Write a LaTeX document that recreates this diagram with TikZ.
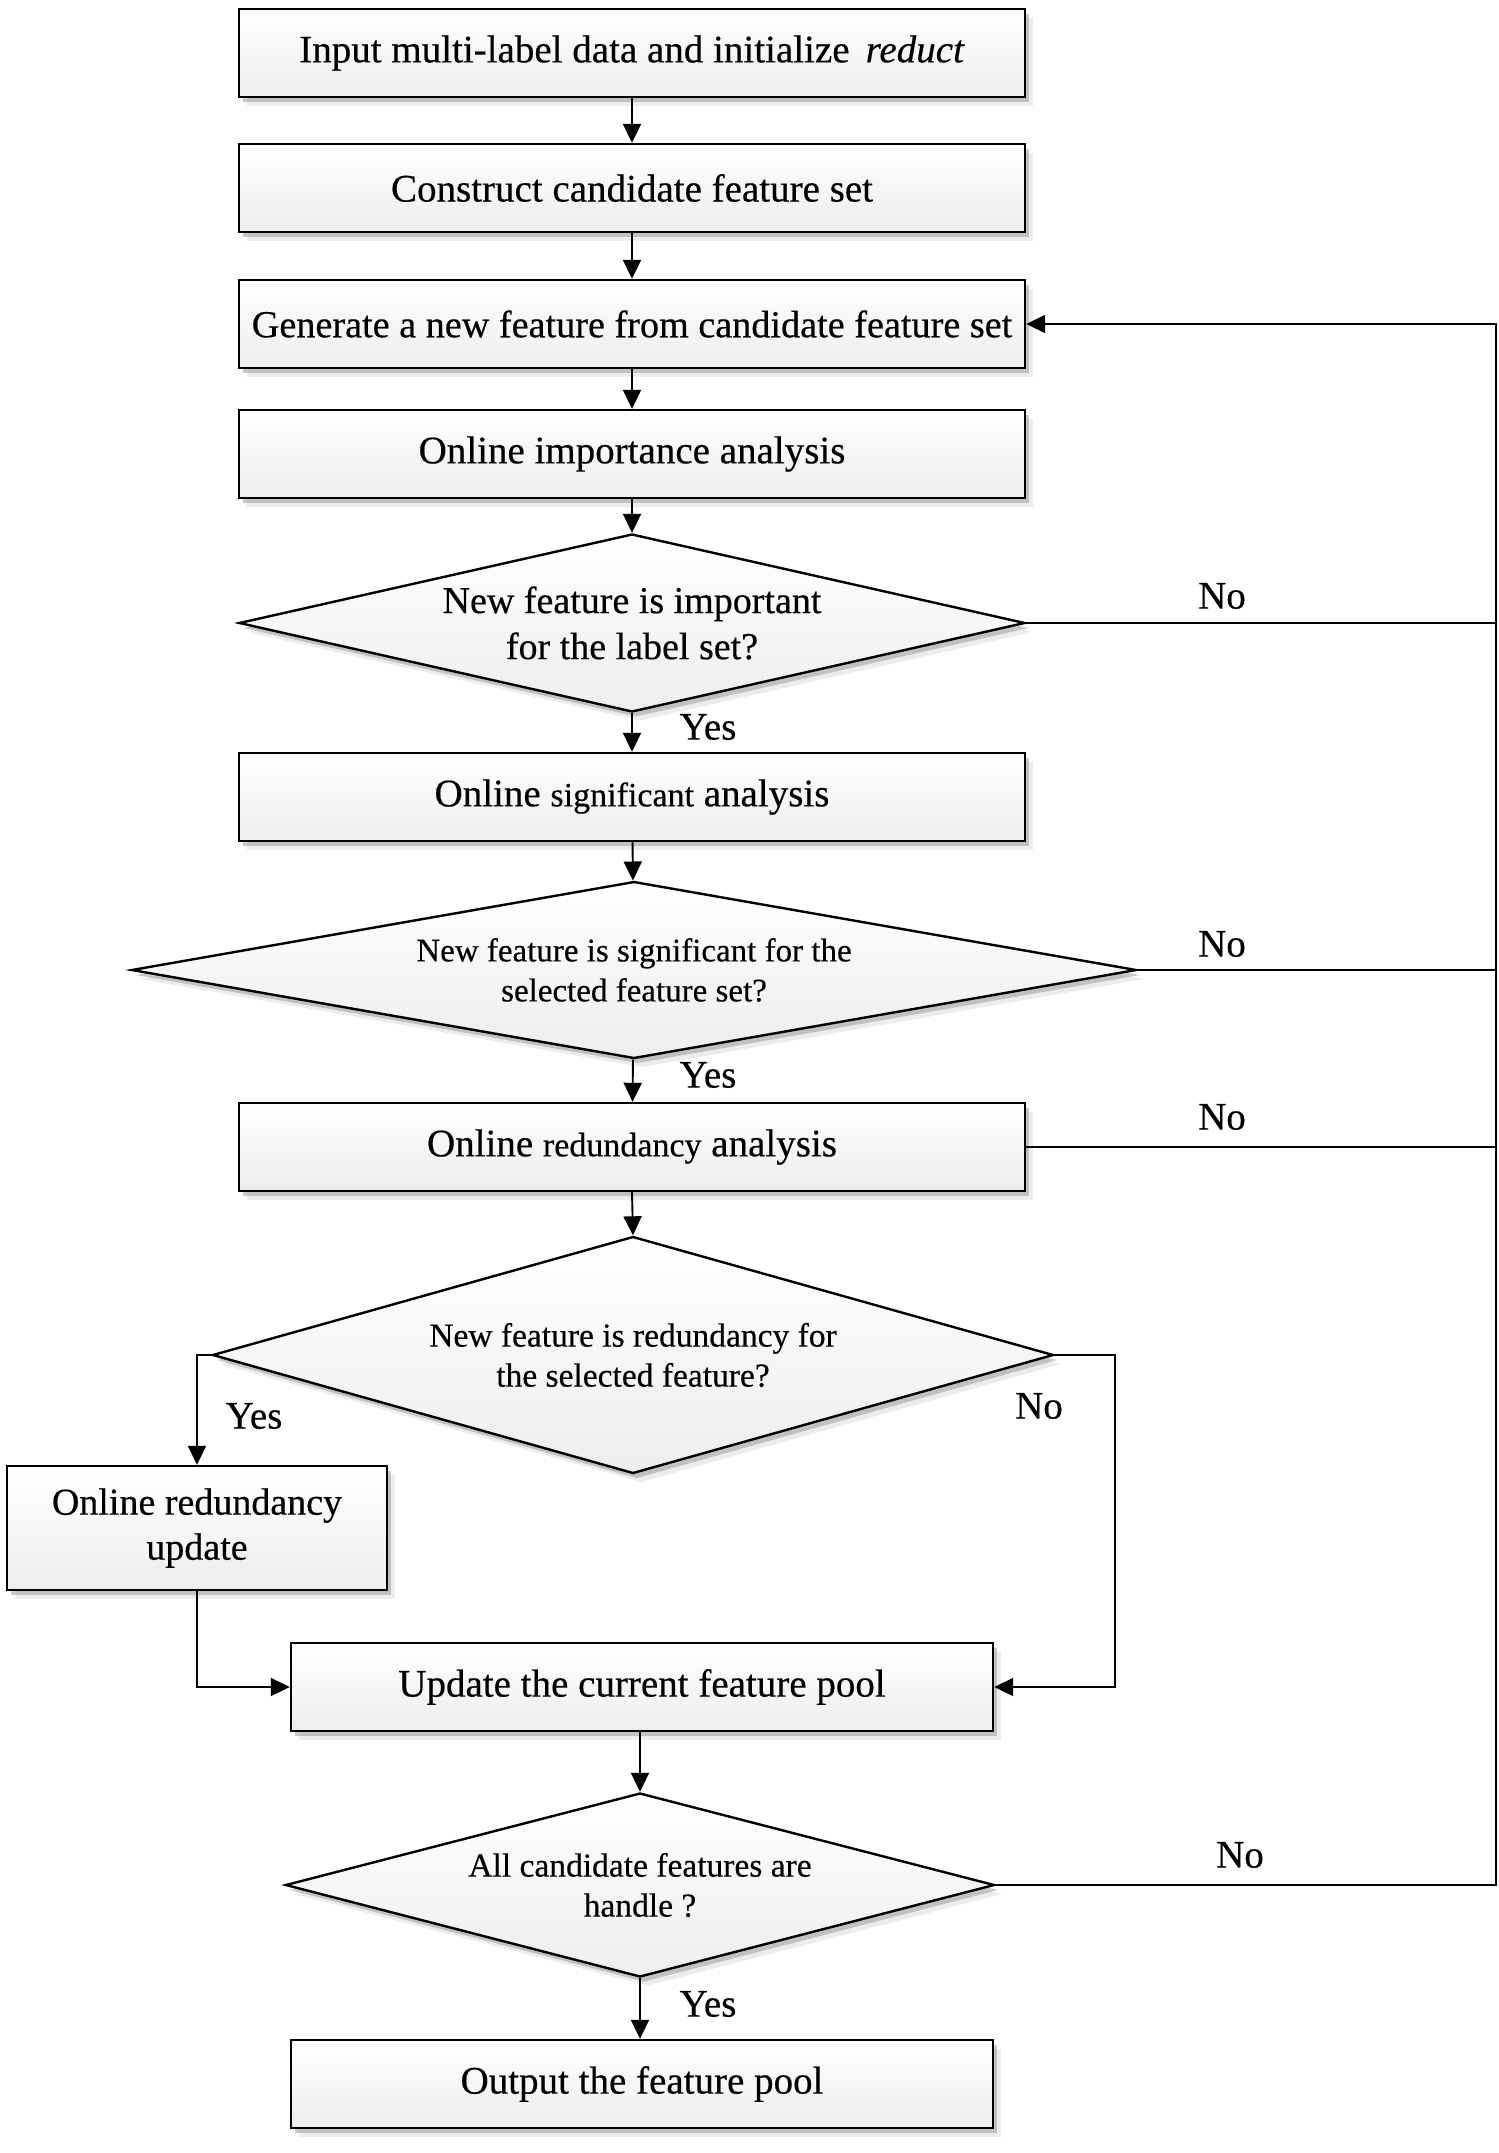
\documentclass[tikz,border=0pt]{standalone}
\usepackage{fontspec}
\setmainfont{Liberation Serif}[FakeBold=0.4]
\usetikzlibrary{shapes.geometric,arrows.meta,shadows}
\begin{document}
\begin{tikzpicture}[x=1pt,y=-1pt,
  shad/.style={drop shadow={shadow xshift=8pt, shadow yshift=-9pt, fill=black!15, opacity=0.5},
               drop shadow={shadow xshift=4pt, shadow yshift=-5pt, fill=black!35, opacity=0.6}},
  box/.style={rectangle, draw=black, line width=2.4pt, minimum width=786pt, minimum height=88pt,
              top color=white, bottom color=black!7, align=center, inner sep=0pt,
              font=\fontsize{39}{46}\selectfont, shad},
  dec/.style={diamond, draw=black, line width=2.4pt, inner sep=0pt, aspect=4,
              top color=white, bottom color=black!7, align=center, shad},
  arr/.style={line width=1.9pt, -{Triangle[length=19pt,width=18pt]}},
  ln/.style={line width=1.9pt},
  lab/.style={font=\fontsize{39}{44}\selectfont, inner sep=0pt}
]
\useasboundingbox (0,0) rectangle (1499,2153);

\node[box] (b1) at (632,53) {Input multi-label data and initialize \,\textit{reduct}};
\node[box] (b2) at (632,188) {Construct candidate feature set};
\node[box, font=\fontsize{38.2}{46}\selectfont] (b3) at (632,324) {Generate a new feature from candidate feature set};
\node[box] (b4) at (632,454) {Online importance analysis};
\node[dec, minimum width=786pt, minimum height=178pt, font=\fontsize{38}{46}\selectfont] (d1) at (632,623)
  {New feature is important\\for the label set?};
\node[box] (b5) at (632,797) {Online {\fontsize{34}{40}\selectfont significant} analysis};
\node[dec, minimum width=1005pt, minimum height=177pt, font=\fontsize{33}{40}\selectfont] (d2) at (634,970)
  {New feature is significant for the\\selected feature set?};
\node[box] (b6) at (632,1147) {Online {\fontsize{34}{40}\selectfont redundancy} analysis};
\node[dec, minimum width=841pt, minimum height=237pt, font=\fontsize{33.5}{40}\selectfont] (d3) at (633,1355)
  {New feature is redundancy for\\the selected feature?};
\node[box, minimum width=380pt, minimum height=124pt, font=\fontsize{38}{45}\selectfont] (b7) at (197,1528)
  {Online redundancy\\update};
\node[box, minimum width=702pt] (b8) at (642,1687) {Update the current feature pool};
\node[dec, minimum width=709pt, minimum height=184pt, font=\fontsize{33.5}{40}\selectfont] (d4) at (640,1885)
  {All candidate features are\\handle ?};
\node[box, minimum width=702pt] (b9) at (642,2084) {Output the feature pool};

\coordinate (rt) at (1496,324);
\coordinate (nr) at (1115,1355);

% main flow
\draw[arr] (b1) -- (b2);
\draw[arr] (b2) -- (b3);
\draw[arr] (b3) -- (b4);
\draw[arr] (b4) -- (d1);
\draw[arr] (d1) -- (b5);
\draw[arr] (b5) -- (d2);
\draw[arr] (d2) -- (b6);
\draw[arr] (b6.south) -- (d3.north);
\draw[arr] (b8.south -| d4.north) -- (d4.north);
\draw[arr] (d4.south) -- (b9.north -| d4.south);

% feedback loop
\draw[arr] (d4.east) -| (rt) -- (b3.east);
\draw[ln] (d1.east) -- (d1.east -| rt);
\draw[ln] (d2.east) -- (d2.east -| rt);
\draw[ln] (b6.east) -- (b6.east -| rt);

% redundancy branches
\draw[arr] (d3.west) -| (b7.north);
\draw[arr] (b7.south) |- (b8.west);
\draw[arr] (d3.east) -| (nr) |- (b8.east);

% labels
\node[lab] (n1) at (1222,596) {No};
\node[lab] (n2) at (1222,944) {No};
\node[lab] (n3) at (1222,1117) {No};
\node[lab] (n4) at (1039,1406) {No};
\node[lab] (n5) at (1240,1855) {No};
\node[lab] (y1) at (708,727) {Yes};
\node[lab] (y2) at (708,1075) {Yes};
\node[lab] (y3) at (254,1416) {Yes};
\node[lab] (y4) at (708,2004) {Yes};
\end{tikzpicture}
\end{document}
